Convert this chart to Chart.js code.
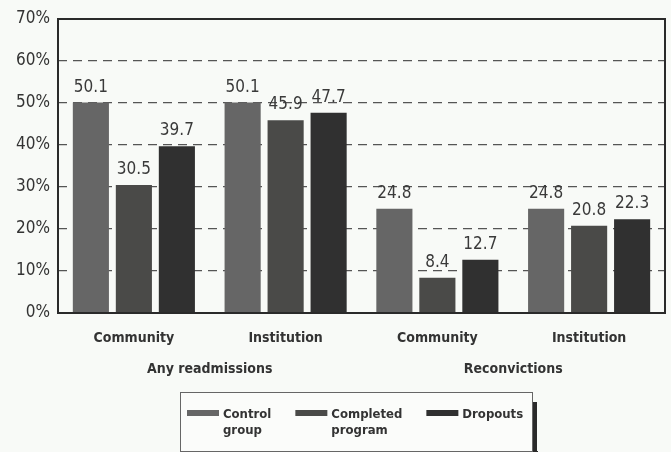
<!DOCTYPE html>
<html>
<head>
<meta charset="utf-8">
<script src="https://cdn.jsdelivr.net/npm/chart.js@4.4.1/dist/chart.umd.min.js"></script>
<style>
  html, body { margin: 0; padding: 0; background: #f8faf7; }
  #wrap { width: 671px; height: 452px; }
</style>
</head>
<body>
<div id="wrap"><canvas id="chart" width="671" height="452"></canvas></div>
<script>
// outcome rates (%) by placement, grouped by measure
const categories = ['Community', 'Institution', 'Community', 'Institution'];
const groups = ['Any readmissions', 'Reconvictions'];
const controlGroup = [50.1, 50.1, 24.8, 24.8];
const completedProgram = [30.5, 45.9, 8.4, 20.8];
const dropouts = [39.7, 47.7, 12.7, 22.3];
const seriesNames = [['Control', 'group'], ['Completed', 'program'], ['Dropouts']];
const yMax = 70;
const yStep = 10;

const NARROW = '"Liberation Sans Narrow", "Arial Narrow", "DejaVu Sans Condensed", sans-serif';
const INK = '#333333';

// frame around the plot area
const framePlugin = {
  id: 'frame',
  afterDatasetsDraw(chart) {
    const { ctx, chartArea: a } = chart;
    ctx.save();
    ctx.strokeStyle = '#2a2a2a';
    ctx.lineWidth = 2;
    ctx.strokeRect(a.left, a.top, a.right - a.left, a.bottom - a.top);
    ctx.restore();
  }
};

// value printed above every bar
const valueLabels = {
  id: 'valueLabels',
  afterDatasetsDraw(chart) {
    const { ctx } = chart;
    ctx.save();
    ctx.font = '17px ' + NARROW;
    ctx.fillStyle = '#3a3a3a';
    ctx.textAlign = 'center';
    ctx.textBaseline = 'alphabetic';
    chart.data.datasets.forEach((ds, i) => {
      chart.getDatasetMeta(i).data.forEach((bar, j) => {
        ctx.fillText(ds.data[j].toFixed(1), bar.x, bar.y - 11);
      });
    });
    ctx.restore();
  }
};

// boxed legend with two-line labels and a drop shadow
const boxLegend = {
  id: 'boxLegend',
  afterDraw(chart) {
    const { ctx } = chart;
    const box = { x: 180, y: 392, w: 352, h: 59 };
    ctx.save();
    ctx.fillStyle = '#2a2a2a';
    ctx.fillRect(box.x + box.w, box.y + 10, 5, box.h);
    ctx.fillRect(box.x + 6, box.y + box.h, box.w, 5);
    ctx.fillStyle = '#fbfcfa';
    ctx.fillRect(box.x, box.y, box.w, box.h);
    ctx.strokeStyle = '#666';
    ctx.lineWidth = 1;
    ctx.strokeRect(box.x + 0.5, box.y + 0.5, box.w, box.h);

    ctx.font = 'bold 13px ' + NARROW;
    ctx.textBaseline = 'alphabetic';
    let x = 187;
    chart.data.datasets.forEach(ds => {
      ctx.fillStyle = ds.backgroundColor;
      ctx.fillRect(x, 410, 32, 6);
      ctx.fillStyle = INK;
      const lines = ds.label;
      let w = 0;
      lines.forEach((t, k) => {
        ctx.fillText(t, x + 36, 418 + k * 16);
        w = Math.max(w, ctx.measureText(t).width);
      });
      x += 36 + w + 24;
    });
    ctx.restore();
  }
};

new Chart(document.getElementById('chart'), {
  type: 'bar',
  data: {
    labels: categories,
    datasets: [
      { label: seriesNames[0], data: controlGroup, backgroundColor: '#666666' },
      { label: seriesNames[1], data: completedProgram, backgroundColor: '#4a4a48' },
      { label: seriesNames[2], data: dropouts, backgroundColor: '#303030' }
    ]
  },
  options: {
    responsive: false,
    animation: false,
    layout: { padding: { top: 19, right: 6, bottom: 69, left: 0 } },
    datasets: { bar: { categoryPercentage: 0.85, barPercentage: 0.84 } },
    plugins: {
      legend: { display: false },
      tooltip: { enabled: false }
    },
    scales: {
      y: {
        min: 0,
        max: yMax,
        ticks: {
          stepSize: yStep,
          padding: 8,
          color: INK,
          font: { family: NARROW, size: 17 },
          callback: v => v + '%'
        },
        grid: { color: '#555', lineWidth: 1.3, drawTicks: false },
        border: { display: false, dash: [9, 6] },
        afterFit(scale) { scale.width = 58; }
      },
      x: {
        weight: 0,
        grid: { display: false },
        border: { display: false },
        ticks: {
          padding: 9,
          color: INK,
          font: { family: NARROW, size: 14, weight: 'bold' }
        },
        afterFit(scale) { scale.height = 38; }
      },
      groups: {
        type: 'linear',
        position: 'bottom',
        weight: 1,
        offset: false,
        min: -0.5,
        max: categories.length - 0.5,
        grid: { display: false },
        border: { display: false },
        afterBuildTicks(scale) {
          scale.ticks = groups.map((g, i) => ({ value: i * 2 + 0.5 }));
        },
        ticks: {
          padding: 2,
          color: INK,
          font: { family: NARROW, size: 14, weight: 'bold' },
          callback: v => groups[Math.round((v - 0.5) / 2)]
        },
        afterFit(scale) { scale.height = 32; }
      }
    }
  },
  plugins: [framePlugin, valueLabels, boxLegend]
});
</script>
</body>
</html>
